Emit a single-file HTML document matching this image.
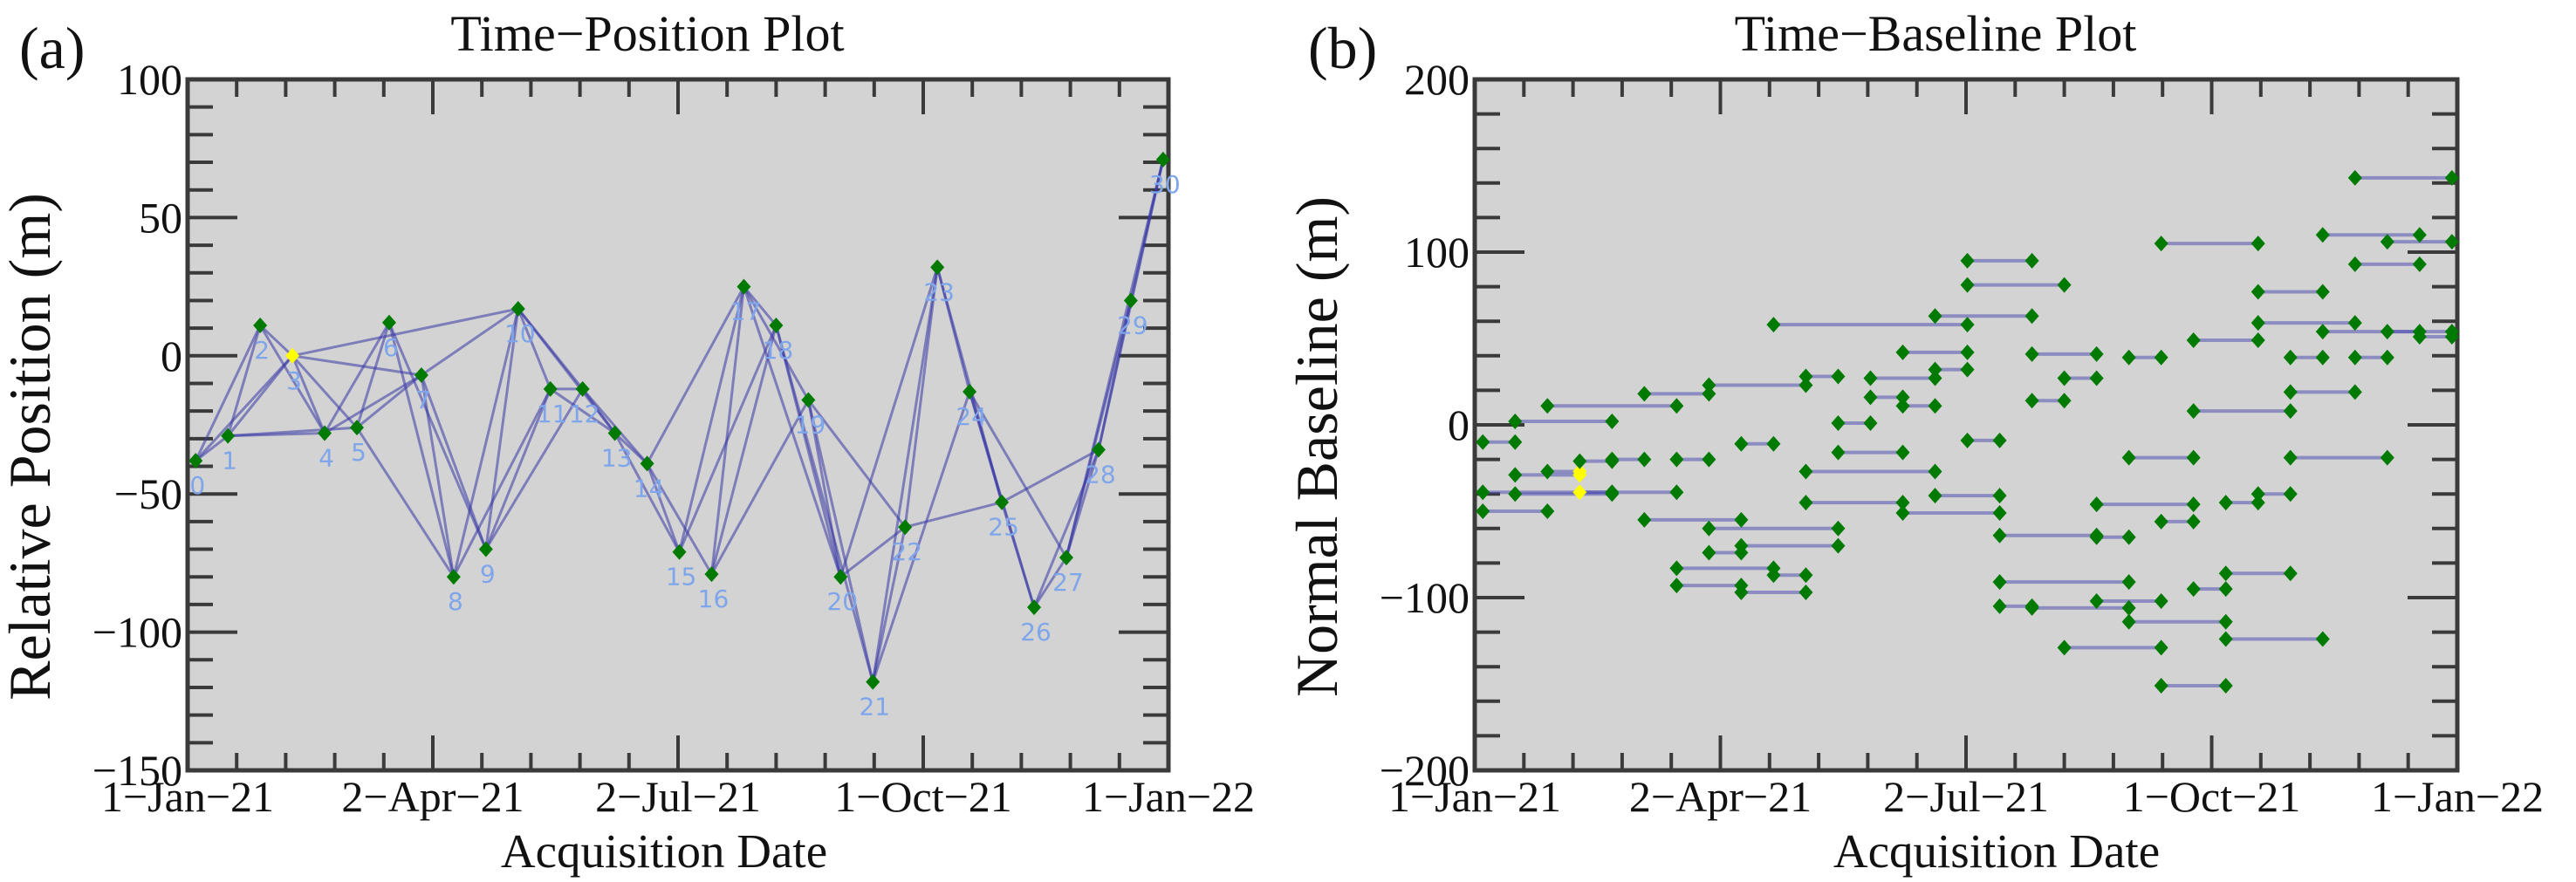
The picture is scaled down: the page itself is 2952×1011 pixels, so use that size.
<!DOCTYPE html>
<html><head><meta charset="utf-8">
<style>
html,body{margin:0;padding:0;background:#fff;}
svg{display:block;}
text{font-family:"Liberation Serif",serif;fill:#111;}
.lbl{font-family:"DejaVu Sans","Liberation Sans",sans-serif;fill:#7fa6ea;font-size:28px;}
</style></head>
<body>
<svg id="fig" width="2952" height="1011" viewBox="0 0 2952 1011">
<g id="panelA"></g>
<g id="panelB"></g>
</svg>
<script>
// Shared acquisition dates (day of year 2021, index 0..30)
const acqDays = [3,15,27,39,51,63,75,87,99,111,123,135,147,159,171,183,195,207,219,231,243,255,267,279,291,303,315,327,339,351,363];
// (a) relative positions (m)
const relPos = [-38,-29,11,0,-28,-26,12,-7,-80,-70,17,-12,-12,-28,-39,-71,-79,25,11,-16,-80,-118,-62,32,-13,-53,-91,-73,-34,20,71];
const refIndex = 3;
// (a) network connections
const edgeFrom = [0,0,0,1,1,1,1,2,2,3,3,3,3,4,4,5,5,5,6,6,7,7,7,8,8,9,9,9,10,10,10,11,11,12,12,13,13,14,14,14,15,15,16,16,16,17,17,17,18,18,19,19,19,20,20,21,21,21,22,22,23,23,24,24,24,25,25,26,26,27,27,27,28,28,29];
const edgeTo   = [1,2,3,2,3,4,5,3,4,4,5,7,10,6,7,6,7,8,8,9,8,9,10,10,11,10,11,12,11,12,13,12,13,13,14,14,15,15,16,17,17,18,17,18,19,18,19,20,20,21,20,21,22,22,23,22,23,24,23,25,24,25,25,26,27,26,28,27,28,28,29,30,29,30,30];
// (b) interferogram baselines: segment start index, end index, baseline (m)
const segFrom = [0,1,0,1,0,1,2,2,3,4,5,6,7,10,5,7,8,7,6,9,6,8,8,9,10,11,11,10,12,12,13,13,14,14,13,14,15,15,15,16,16,17,17,18,16,17,19,18,19,19,20,20,20,21,21,21,22,22,22,23,23,23,24,24,24,25,25,25,26,26,27,27,27,28,28,29,3];
const segTo   = [1,4,6,4,2,3,6,3,4,5,7,7,10,11,8,11,11,8,9,10,8,10,9,15,13,12,13,14,14,13,14,15,15,17,16,16,17,18,16,19,20,18,19,19,17,20,21,21,22,20,21,22,23,24,22,23,24,25,23,24,25,26,25,26,27,26,27,28,29,30,30,29,28,30,29,30,4];
const segBase = [-10,2,-39,-40,-50,-29,11,-27,-21,-20,18,-20,23,28,-55,-60,-70,-74,-83,-87,-93,-97,-11,58,-45,1,-16,-27,27,16,11,42,32,63,-51,-41,95,81,-9,-64,-91,14,41,27,-105,-106,-102,-129,-46,-65,39,-19,-114,105,-56,-151,49,8,-95,-45,-86,-124,-40,77,59,39,19,-19,110,54,143,93,39,106,54,51,-39];
const refBaselines = [11,-27,-29,-39];
const xTickLabels = ["1\u2212Jan\u221221","2\u2212Apr\u221221","2\u2212Jul\u221221","1\u2212Oct\u221221","1\u2212Jan\u221222"];
const yTicksA = [100,50,0,-50,-100,-150];
const yTicksB = [200,100,0,-100,-200];

const NS="http://www.w3.org/2000/svg";
function mk(tag, attrs, parent){const e=document.createElementNS(NS,tag);for(const k in attrs)e.setAttribute(k,attrs[k]);parent.appendChild(e);return e;}

function frame(g, L, R, T, B, yMin, yMax, yMinorStep, yMajorStep, yTicks, title, ytitle, tag, panelLeft, xTitleX){
  mk('rect',{x:L,y:T,width:R-L,height:B-T,fill:'#d3d3d3'},g);
  const ax=mk('g',{stroke:'#3a3a3a','stroke-width':4},g);
  
  
  for(let i=1;i<20;i++){
    const x=L+(R-L)*i/20, len=(i%5===0)?40:20;
    mk('line',{x1:x,y1:B,x2:x,y2:B-len},ax);
    mk('line',{x1:x,y1:T,x2:x,y2:T+len},ax);
  }
  const ys=v=>T+(yMax-v)/(yMax-yMin)*(B-T);
  for(let v=yMin+yMinorStep; v<yMax; v+=yMinorStep){
    const y=ys(v), major=(Math.abs(v%yMajorStep)<1e-6), len=major?57:29;
    mk('line',{x1:L,y1:y,x2:L+len,y2:y},ax);
    mk('line',{x1:R,y1:y,x2:R-len,y2:y},ax);
  }
  const fr=mk('rect',{x:L,y:T,width:R-L,height:B-T,fill:'none',stroke:'#3a3a3a','stroke-width':5},g);
  
  
  yTicks.forEach(v=>{
    const t=mk('text',{x:L-6,y:ys(v)+17,'text-anchor':'end','font-size':50},g);
    t.textContent=String(v).replace('-','\u2212');
    
    
  });
  xTickLabels.forEach((s,i)=>{
    const t=mk('text',{x:L+(R-L)*i/4,y:930,'text-anchor':'middle','font-size':50},g);
    t.textContent=s;
    
    
  });
  const tt=mk('text',{x:(L+R)/2-35,y:58,'text-anchor':'middle','font-size':58},g);
  tt.textContent=title;
  
  
  const xt=mk('text',{x:xTitleX,y:994,'text-anchor':'middle','font-size':55},g);
  xt.textContent='Acquisition Date';
  
  
  const cx=L-158, cy=(T+B)/2+25;
  const yt=mk('text',{x:cx,y:cy,'text-anchor':'middle','font-size':68,transform:`rotate(-90 ${cx} ${cy})`},g);
  yt.textContent=ytitle;
  
  
  const pl=mk('text',{x:panelLeft,y:78,'font-size':68},g);
  pl.textContent=tag;
  
  
  return ys;
}
function diamond(g,x,y,color,name){
  const p=mk('path',{d:`M${x} ${y-9}L${x+8} ${y}L${x} ${y+9}L${x-8} ${y}Z`,fill:color},g);
  
  
}

// Panel A
(function(){
  const g=document.getElementById('panelA');
  const L=215,R=1339,T=91,B=883;
  const ys=frame(g,L,R,T,B,-150,100,10,50,yTicksA,'Time\u2212Position Plot','Relative Position (m)','(a)',22,761);
  const xs=d=>L+d/365*(R-L);
  const lg=mk('g',{stroke:'rgba(55,55,165,0.55)','stroke-width':3},g);
  edgeFrom.forEach((a,k)=>{
    const b=edgeTo[k];
    const l=mk('line',{x1:xs(acqDays[a]),y1:ys(relPos[a]),x2:xs(acqDays[b]),y2:ys(relPos[b])},lg);
    
    
  });
  relPos.forEach((v,i)=>{
    const x=xs(acqDays[i]), y=ys(v);
    const t=mk('text',{x:x+2,y:y+38,'text-anchor':'middle',class:'lbl'},g);
    t.textContent=String(i);
    
    
  });
  relPos.forEach((v,i)=>{
    diamond(g,xs(acqDays[i]),ys(v),i===refIndex?'#ffff00':'#007a00',i===refIndex?'reference-point':'acquisition-point');
  });
})();

// Panel B
(function(){
  const g=document.getElementById('panelB');
  const L=1690,R=2816,T=91,B=883;
  const ys=frame(g,L,R,T,B,-200,200,20,100,yTicksB,'Time\u2212Baseline Plot','Normal Baseline (m)','(b)',1499,2288);
  const xs=d=>L+d/365*(R-L);
  const lg=mk('g',{stroke:'rgba(70,70,175,0.5)','stroke-width':4},g);
  segFrom.forEach((a,k)=>{
    const b=segTo[k], y=ys(segBase[k]);
    const l=mk('line',{x1:xs(acqDays[a]),y1:y,x2:xs(acqDays[b]),y2:y},lg);
    
    
  });
  segFrom.forEach((a,k)=>{
    const b=segTo[k], y=ys(segBase[k]);
    [a,b].forEach(i=>{
      const isRef=(i===refIndex && refBaselines.includes(segBase[k]));
      diamond(g,xs(acqDays[i]),y,isRef?'#ffff00':'#007a00',isRef?'reference-point':'acquisition-point');
    });
  });
})();
</script>
</body></html>
